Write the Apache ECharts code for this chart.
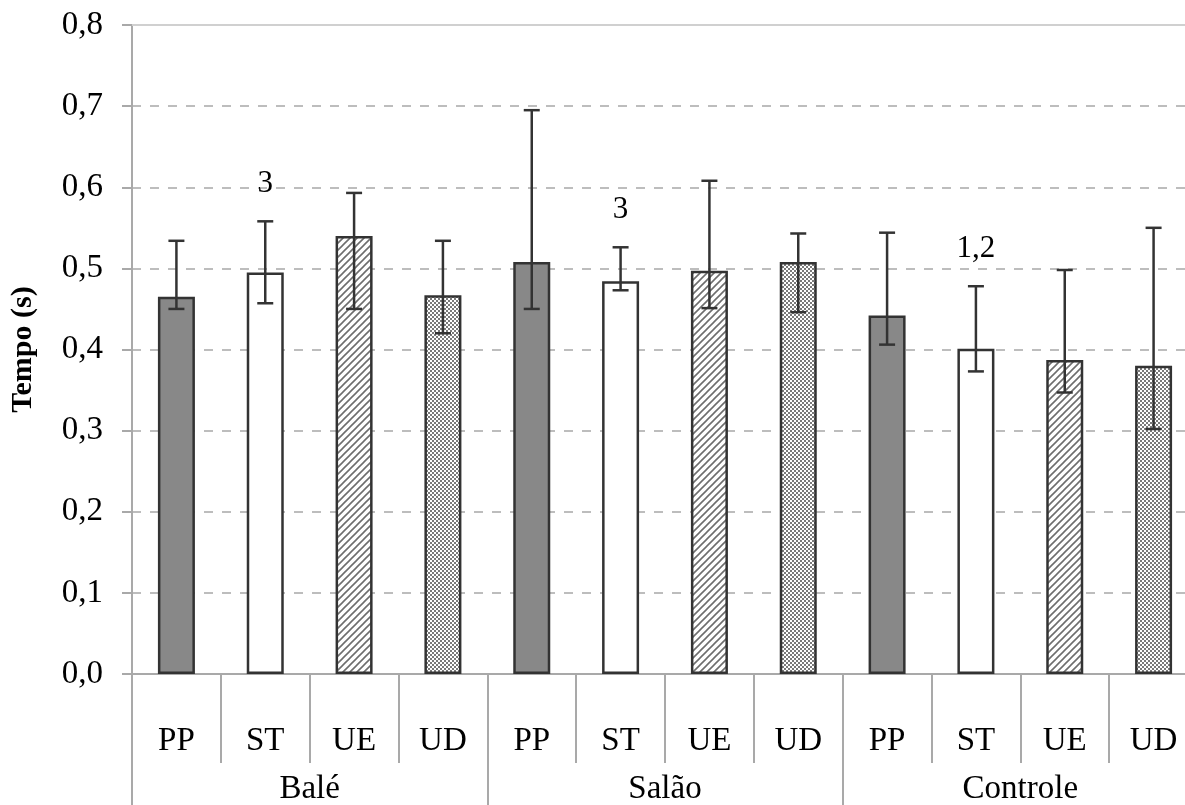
<!DOCTYPE html>
<html>
<head>
<meta charset="utf-8">
<title>Tempo (s)</title>
<script src="https://cdn.jsdelivr.net/npm/echarts@6/dist/echarts.min.js"></script>
<style>
  html, body { margin: 0; padding: 0; background: #fff; }
  #chart { width: 1185px; height: 805px; }
</style>
</head>
<body>
<div id="chart"></div>
<script>
// Categories: measure per bar, and the group each block of four belongs to
const categories = ['PP', 'ST', 'UE', 'UD', 'PP', 'ST', 'UE', 'UD', 'PP', 'ST', 'UE', 'UD'];
const groups = ['Balé', 'Salão', 'Controle'];

// Mean time (s) and the ends of each error bar
const means   = [0.465, 0.495, 0.540, 0.467, 0.508, 0.484, 0.497, 0.508, 0.442, 0.401, 0.387, 0.380];
const errLow  = [0.450, 0.457, 0.450, 0.420, 0.450, 0.473, 0.451, 0.446, 0.406, 0.373, 0.347, 0.302];
const errHigh = [0.534, 0.558, 0.593, 0.534, 0.695, 0.526, 0.608, 0.543, 0.544, 0.478, 0.498, 0.550];

// Significance marks written above the error bars
const marks = ['', '3', '', '', '', '3', '', '', '', '1,2', '', ''];

// Y axis ticks
const yTicks = [0, 0.1, 0.2, 0.3, 0.4, 0.5, 0.6, 0.7, 0.8];

const FONT = '"Liberation Serif", "DejaVu Serif", serif';
const GRID_COLOR = '#bdbdbd';
const AXIS_COLOR = '#a9a9a9';
const EDGE = '#333333';

// Fill patterns for the four measures
function hatchPattern() {
  const c = document.createElement('canvas');
  c.width = 7; c.height = 7;
  const g = c.getContext('2d');
  g.fillStyle = '#ffffff';
  g.fillRect(0, 0, 7, 7);
  g.strokeStyle = '#6e6e6e';
  g.lineWidth = 1.6;
  g.beginPath();
  g.moveTo(-1, 8); g.lineTo(8, -1);
  g.moveTo(-4, 4); g.lineTo(4, -4);
  g.moveTo(3, 11); g.lineTo(11, 3);
  g.stroke();
  return c;
}
function checkerPattern() {
  const c = document.createElement('canvas');
  c.width = 4; c.height = 4;
  const g = c.getContext('2d');
  g.fillStyle = '#ffffff';
  g.fillRect(0, 0, 4, 4);
  g.fillStyle = '#7a7a7a';
  g.fillRect(0, 0, 2, 2);
  g.fillRect(2, 2, 2, 2);
  return c;
}
const fills = [
  '#888888',
  '#ffffff',
  { image: hatchPattern(), repeat: 'repeat' },
  { image: checkerPattern(), repeat: 'repeat' }
];

const barData = means.map((v, i) => ({
  value: v,
  itemStyle: { color: fills[i % 4], borderColor: EDGE, borderWidth: 2.5 }
}));
const errData = means.map((v, i) => [i, errLow[i], errHigh[i]]);

const chart = echarts.init(document.getElementById('chart'));
chart.setOption({
  backgroundColor: '#ffffff',
  animation: false,
  // the plot runs slightly past the right edge of the page
  grid: { left: 132, top: 25, width: 1066, height: 649, containLabel: false, outerBoundsMode: 'none' },
  xAxis: [
    {
      type: 'category',
      data: categories,
      boundaryGap: true,
      axisLine: { show: true, lineStyle: { color: AXIS_COLOR, width: 2 } },
      axisTick: { show: true, interval: 0, length: 89, lineStyle: { color: AXIS_COLOR, width: 2 } },
      axisLabel: { interval: 0, margin: 51, color: '#000', fontFamily: FONT, fontSize: 33 },
      splitLine: { show: false }
    },
    {
      type: 'category',
      data: groups,
      position: 'bottom',
      boundaryGap: true,
      axisLine: { show: false },
      axisTick: { show: true, interval: 0, length: 131, lineStyle: { color: AXIS_COLOR, width: 2 } },
      axisLabel: { interval: 0, margin: 99, color: '#000', fontFamily: FONT, fontSize: 33 },
      splitLine: { show: false }
    }
  ],
  yAxis: {
    type: 'value',
    min: yTicks[0],
    max: yTicks[yTicks.length - 1],
    interval: 0.1,
    name: 'Tempo (s)',
    nameLocation: 'middle',
    nameRotate: 90,
    nameGap: 94,
    nameTextStyle: { color: '#000', fontFamily: FONT, fontSize: 30, fontWeight: 'bold' },
    axisLine: { show: true, lineStyle: { color: AXIS_COLOR, width: 2 } },
    axisTick: { show: true, length: 10, lineStyle: { color: AXIS_COLOR, width: 2 } },
    axisLabel: {
      margin: 29,
      color: '#000',
      fontFamily: FONT,
      fontSize: 33,
      formatter: v => v.toFixed(1).replace('.', ',')
    },
    splitLine: { show: true, lineStyle: { color: GRID_COLOR, width: 2, type: [9, 9] } }
  },
  series: [
    {
      type: 'bar',
      xAxisIndex: 0,
      data: barData,
      barWidth: 37,
      z: 2,
      markLine: {
        silent: true,
        symbol: 'none',
        label: { show: false },
        lineStyle: { color: '#d0d0d0', width: 2, type: 'solid' },
        data: [{ yAxis: yTicks[yTicks.length - 1] }]
      }
    },
    {
      type: 'custom',
      xAxisIndex: 0,
      data: errData,
      z: 5,
      encode: { x: 0, y: [1, 2] },
      renderItem: function (params, api) {
        const i = api.value(0);
        const lo = api.coord([i, api.value(1)]);
        const hi = api.coord([i, api.value(2)]);
        const x = lo[0];
        const cap = 8;
        const st = { stroke: EDGE, lineWidth: 2.5 };
        const children = [
          { type: 'line', shape: { x1: x, y1: lo[1], x2: x, y2: hi[1] }, style: st },
          { type: 'line', shape: { x1: x - cap, y1: hi[1], x2: x + cap, y2: hi[1] }, style: st },
          { type: 'line', shape: { x1: x - cap, y1: lo[1], x2: x + cap, y2: lo[1] }, style: st }
        ];
        const mark = marks[params.dataIndex];
        if (mark) {
          children.push({
            type: 'text',
            style: {
              x: x,
              y: hi[1] - 37,
              text: mark,
              align: 'center',
              verticalAlign: 'middle',
              fill: '#000',
              font: '31px ' + FONT
            }
          });
        }
        return { type: 'group', children: children };
      }
    }
  ]
});
</script>
</body>
</html>
